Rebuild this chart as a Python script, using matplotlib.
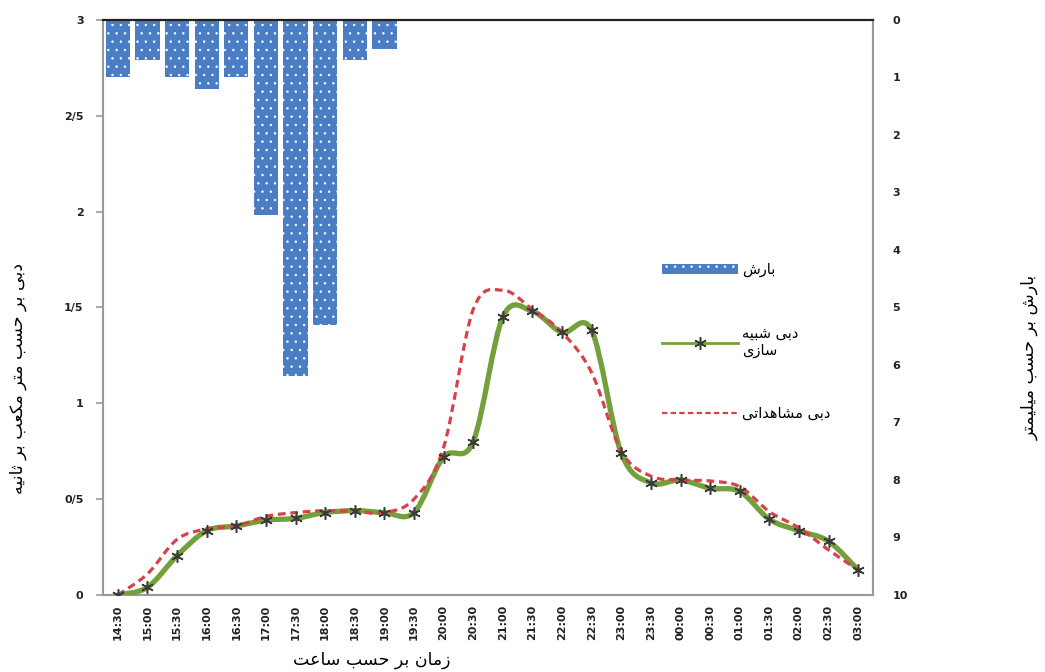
import numpy as np
import matplotlib
matplotlib.use("Agg")
import matplotlib.pyplot as plt
from matplotlib.path import Path
from matplotlib.patches import PathPatch, Patch
from matplotlib.lines import Line2D


# ── Data ──────────────────────────────────────────────────────────────────────

times = ["14:30", "15:00", "15:30", "16:00", "16:30", "17:00", "17:30",
         "18:00", "18:30", "19:00", "19:30", "20:00", "20:30", "21:00",
         "21:30", "22:00", "22:30", "23:00", "23:30", "00:00", "00:30",
         "01:00", "01:30", "02:00", "02:30", "03:00"]

# rainfall (mm), first ten time steps
rain = [1.0, 0.7, 1.0, 1.2, 1.0, 3.4, 6.2, 5.3, 0.7, 0.5]

# simulated discharge (m3/s)
q_sim = [0.0, 0.04, 0.205, 0.335, 0.36, 0.39, 0.40, 0.43, 0.44, 0.43,
         0.43, 0.72, 0.80, 1.45, 1.48, 1.37, 1.38, 0.74, 0.585, 0.60,
         0.557, 0.54, 0.395, 0.335, 0.28, 0.13]

# observed discharge (m3/s)
q_obs = [0.0, 0.11, 0.29, 0.345, 0.36, 0.41, 0.43, 0.44, 0.435, 0.43,
         0.50, 0.77, 1.49, 1.59, 1.49, 1.37, 1.16, 0.75, 0.62, 0.60,
         0.595, 0.565, 0.435, 0.35, 0.235, 0.13]

q_ticks = [0, 0.5, 1, 1.5, 2, 2.5, 3]
q_tick_labels = ["0", "0/5", "1", "1/5", "2", "2/5", "3"]
rain_ticks = list(range(0, 11))

GREEN = "#73A03A"
RED = "#D8404A"
BLUE = "#4A7DC4"


# ── Persian text shaping (matplotlib has no bidi / joining support) ───────────

# isolated, final, initial, medial
FORMS = {
    "ا": ("\uFE8D", "\uFE8E", None, None),
    "ب": ("\uFE8F", "\uFE90", "\uFE91", "\uFE92"),
    "ت": ("\uFE95", "\uFE96", "\uFE97", "\uFE98"),
    "ث": ("\uFE99", "\uFE9A", "\uFE9B", "\uFE9C"),
    "ح": ("\uFEA1", "\uFEA2", "\uFEA3", "\uFEA4"),
    "د": ("\uFEA9", "\uFEAA", None, None),
    "ر": ("\uFEAD", "\uFEAE", None, None),
    "ز": ("\uFEAF", "\uFEB0", None, None),
    "س": ("\uFEB1", "\uFEB2", "\uFEB3", "\uFEB4"),
    "ش": ("\uFEB5", "\uFEB6", "\uFEB7", "\uFEB8"),
    "ع": ("\uFEC9", "\uFECA", "\uFECB", "\uFECC"),
    "ک": ("\uFB8E", "\uFB8F", "\uFB90", "\uFB91"),
    "ل": ("\uFEDD", "\uFEDE", "\uFEDF", "\uFEE0"),
    "م": ("\uFEE1", "\uFEE2", "\uFEE3", "\uFEE4"),
    "ن": ("\uFEE5", "\uFEE6", "\uFEE7", "\uFEE8"),
    "ه": ("\uFEE9", "\uFEEA", "\uFEEB", "\uFEEC"),
    "ی": ("\uFBFC", "\uFBFD", "\uFBFE", "\uFBFF"),
}


def shape_word(word):
    out = []
    for i, ch in enumerate(word):
        if ch not in FORMS:
            out.append(ch)
            continue
        join_prev = i > 0 and word[i - 1] in FORMS and FORMS[word[i - 1]][2] is not None
        join_next = (i < len(word) - 1 and FORMS[ch][2] is not None
                     and word[i + 1] in FORMS)
        iso, fin, ini, med = FORMS[ch]
        if join_prev and join_next:
            out.append(med)
        elif join_prev:
            out.append(fin)
        elif join_next:
            out.append(ini)
        else:
            out.append(iso)
    return "".join(reversed(out))


def fa(text):
    lines = []
    for line in text.split("\n"):
        lines.append(" ".join(shape_word(w) for w in reversed(line.split(" "))))
    return "\n".join(lines)


def smooth_path(xs, ys):
    """Cubic Bezier path through the points (Excel-style smoothed line)."""
    pts = np.column_stack([xs, ys]).astype(float)
    n = len(pts)
    verts = [pts[0]]
    codes = [Path.MOVETO]
    for i in range(n - 1):
        p0 = pts[i - 1] if i > 0 else pts[i]
        p1, p2 = pts[i], pts[i + 1]
        p3 = pts[i + 2] if i + 2 < n else pts[i + 1]
        verts += [p1 + (p2 - p0) / 6, p2 - (p3 - p1) / 6, p2]
        codes += [Path.CURVE4] * 3
    return Path(verts, codes)


# ── Figure ────────────────────────────────────────────────────────────────────

plt.rcParams["font.family"] = ["DejaVu Sans"]
plt.rcParams["hatch.linewidth"] = 0.5

fig = plt.figure(figsize=(10.45, 6.72), dpi=100)
ax = fig.add_axes([0.0986, 0.1146, 0.7368, 0.8557])
x = np.arange(len(times))

# discharge curves
ax.add_patch(PathPatch(smooth_path(x, q_sim), fill=False, edgecolor=GREEN,
                       lw=3.8, capstyle="round", zorder=3))
ax.add_patch(PathPatch(smooth_path(x, q_obs), fill=False, edgecolor=RED,
                       lw=2.3, linestyle=(0, (2.4, 1.5)), zorder=4))
ax.plot(x, q_sim, ls="none", marker=(6, 2, 0), markersize=9,
        markeredgecolor="#3a3a3a", markeredgewidth=1.1, zorder=5)

ax.set_xlim(-0.5, len(times) - 0.5)
ax.set_ylim(0, 3)
ax.set_yticks(q_ticks)
ax.set_yticklabels(q_tick_labels, fontsize=8, fontweight="bold", color="#222")
ax.set_xticks(x)
ax.set_xticklabels(times, rotation=90, fontsize=8, fontweight="bold",
                   color="#222")
ax.tick_params(axis="y", direction="out", length=5, width=1.2,
               color="#999", pad=9)
ax.tick_params(axis="x", length=0, pad=7)

for side in ["left", "bottom", "right"]:
    ax.spines[side].set_color("#999")
    ax.spines[side].set_linewidth(1.5)
ax.spines["top"].set_visible(False)

# rainfall hyetograph hanging from the top
ax2 = ax.twinx()
ax2.bar(np.arange(len(rain)), rain, width=0.82, color=BLUE,
        edgecolor="white", linewidth=0, hatch="..", zorder=2)
ax2.set_ylim(10, 0)
ax2.set_yticks(rain_ticks)
ax2.set_yticklabels([str(v) for v in rain_ticks], fontsize=8,
                    fontweight="bold", color="#222")
ax2.tick_params(axis="y", length=0, pad=14)
ax2.spines["top"].set_color("#222")
ax2.spines["top"].set_linewidth(1.6)
ax2.spines["right"].set_color("#999")
ax2.spines["right"].set_linewidth(1.5)
ax2.spines["left"].set_visible(False)
ax2.spines["bottom"].set_visible(False)

# axis titles
fig.text(372 / 1045, 1 - 660 / 672, fa("زمان بر حسب ساعت"),
         ha="center", va="center", fontsize=12.5)
fig.text(18 / 1045, 1 - 378 / 672, fa("دبی بر حسب متر مکعب بر ثانیه"),
         ha="center", va="center", rotation=90, fontsize=12.5)
fig.text(1030 / 1045, 1 - 357 / 672, fa("بارش بر حسب میلیمتر"),
         ha="center", va="center", rotation=90, fontsize=12.5)

# legend
handles = [
    Patch(facecolor=BLUE, edgecolor="white", linewidth=0, hatch=".."),
    Line2D([], [], color=GREEN, lw=2, marker=(6, 2, 0), markersize=9,
           markeredgecolor="#3a3a3a", markeredgewidth=1.1),
    Line2D([], [], color=RED, lw=1.6, linestyle=(0, (2.4, 1.5))),
]
labels = [fa("بارش"), fa("دبی شبیه\nسازی"), fa("دبی مشاهداتی")]
fig.legend(handles, labels, loc="upper left",
           bbox_to_anchor=(662 / 1045, 1 - 262 / 672), frameon=False,
           fontsize=10.5, handlelength=5.2, handletextpad=0.3,
           labelspacing=3.3, borderaxespad=0, borderpad=0)

fig.savefig("out.png", dpi=100)
